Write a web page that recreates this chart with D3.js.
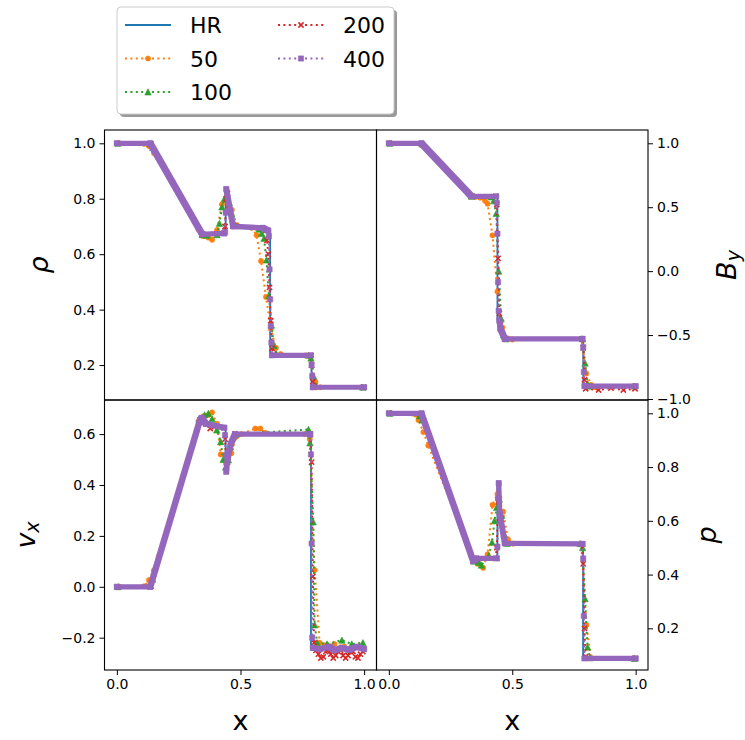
<!DOCTYPE html>
<html>
<head>
<meta charset="utf-8">
<script src="https://cdnjs.cloudflare.com/ajax/libs/d3/7.8.5/d3.min.js"></script>
<style>
  body { margin: 0; background: #fff; }
  text { font-family: "DejaVu Sans", sans-serif; }
</style>
</head>
<body>
<div id="chart"></div>
<script>
// values, [x, value]
var rhoHR = [[0,1],[0.135,1],[0.345,0.675],[0.44,0.675],[0.44,0.835],[0.47,0.70],[0.59,0.695],[0.62,0.69],[0.62,0.235],[0.787,0.235],[0.787,0.12],[1,0.12]];
var rho50 = [[0.01,1],[0.11,0.998],[0.13,0.99],[0.15,0.965],[0.33,0.69],[0.35,0.665],[0.37,0.66],[0.385,0.652],[0.405,0.687],[0.425,0.78],[0.445,0.8],[0.465,0.76],[0.485,0.705],[0.545,0.695],[0.565,0.668],[0.583,0.575],[0.603,0.446],[0.623,0.33],[0.643,0.262],[0.663,0.24],[0.763,0.235],[0.783,0.232],[0.803,0.14],[0.823,0.12],[0.99,0.12]];
var rho100 = [[0.005,1],[0.135,0.998],[0.145,0.985],[0.345,0.67],[0.365,0.668],[0.405,0.67],[0.415,0.711],[0.425,0.77],[0.435,0.8],[0.445,0.815],[0.455,0.785],[0.465,0.745],[0.475,0.71],[0.575,0.69],[0.585,0.675],[0.595,0.657],[0.605,0.579],[0.615,0.45],[0.625,0.344],[0.635,0.27],[0.645,0.24],[0.775,0.235],[0.785,0.225],[0.795,0.16],[0.805,0.125],[0.995,0.12]];
var rho200 = [[0.0025,1],[0.1375,0.998],[0.3475,0.672],[0.4325,0.675],[0.4375,0.70],[0.4425,0.80],[0.4475,0.82],[0.4775,0.70],[0.6025,0.685],[0.6075,0.65],[0.6125,0.6],[0.6175,0.48],[0.6225,0.36],[0.6275,0.26],[0.6325,0.236],[0.7825,0.235],[0.7875,0.2],[0.7925,0.14],[0.7975,0.12],[0.9975,0.12]];
var rho400 = [[0,1],[0.135,1],[0.345,0.672],[0.435,0.675],[0.4375,0.68],[0.44,0.75],[0.4425,0.835],[0.47,0.70],[0.59,0.695],[0.6125,0.685],[0.615,0.665],[0.6175,0.545],[0.62,0.437],[0.6225,0.341],[0.625,0.281],[0.6275,0.235],[0.785,0.235],[0.7875,0.2],[0.79,0.16],[0.7925,0.12],[1,0.12]];

var byHR = [[0,1],[0.132,1],[0.335,0.585],[0.44,0.585],[0.44,-0.38],[0.452,-0.45],[0.47,-0.53],[0.788,-0.53],[0.788,-0.9],[1,-0.9]];
var by50 = [[0.01,1],[0.13,0.99],[0.15,0.96],[0.33,0.59],[0.35,0.58],[0.37,0.575],[0.39,0.55],[0.4,0.527],[0.42,0.28],[0.44,-0.16],[0.46,-0.44],[0.48,-0.525],[0.5,-0.535],[0.78,-0.53],[0.8,-0.8],[0.82,-0.89],[0.84,-0.91],[0.99,-0.9]];
var by100 = [[0.005,1],[0.135,0.995],[0.335,0.585],[0.415,0.58],[0.425,0.55],[0.435,0.45],[0.445,0.0],[0.455,-0.37],[0.465,-0.5],[0.475,-0.53],[0.785,-0.53],[0.795,-0.72],[0.805,-0.88],[0.815,-0.9],[0.995,-0.9]];
var by200 = [[0.0025,1],[0.1325,1],[0.3375,0.585],[0.4325,0.585],[0.4375,0.52],[0.4425,0.1],[0.4475,-0.33],[0.4525,-0.42],[0.47,-0.53],[0.7825,-0.53],[0.7875,-0.6],[0.7925,-0.85],[0.7975,-0.92],[0.85,-0.93],[0.9,-0.915],[0.95,-0.93],[0.9975,-0.92]];
var by400 = [[0,1],[0.132,1],[0.335,0.585],[0.435,0.585],[0.4375,0.535],[0.44,0.293],[0.4425,-0.086],[0.445,-0.31],[0.4475,-0.385],[0.452,-0.45],[0.47,-0.53],[0.785,-0.53],[0.7875,-0.595],[0.79,-0.79],[0.7925,-0.9],[1,-0.9]];

var vxHR = [[0,0],[0.135,0],[0.34,0.66],[0.345,0.64],[0.44,0.632],[0.44,0.45],[0.455,0.53],[0.478,0.6],[0.785,0.6],[0.785,-0.24],[1,-0.24]];
var vx50 = [[0.01,0],[0.11,0.002],[0.13,0.026],[0.15,0.065],[0.17,0.12],[0.33,0.65],[0.35,0.67],[0.37,0.675],[0.385,0.685],[0.405,0.64],[0.42,0.52],[0.44,0.49],[0.463,0.525],[0.483,0.59],[0.503,0.6],[0.56,0.622],[0.58,0.622],[0.6,0.605],[0.76,0.6],[0.78,0.58],[0.8,0.066],[0.82,-0.22],[0.84,-0.23],[0.88,-0.225],[0.92,-0.235],[0.96,-0.24],[0.99,-0.24]];
var vx100 = [[0.005,0],[0.135,0.005],[0.145,0.03],[0.335,0.66],[0.355,0.675],[0.37,0.681],[0.385,0.66],[0.404,0.616],[0.42,0.57],[0.43,0.5],[0.44,0.47],[0.451,0.498],[0.46,0.55],[0.47,0.59],[0.485,0.6],[0.775,0.618],[0.781,0.565],[0.794,0.255],[0.8,-0.15],[0.81,-0.22],[0.85,-0.225],[0.91,-0.21],[0.95,-0.225],[0.995,-0.22]];
var vx200 = [[0.0025,0],[0.1375,0.002],[0.3375,0.655],[0.3475,0.65],[0.3775,0.622],[0.4325,0.625],[0.4375,0.58],[0.4425,0.47],[0.4475,0.49],[0.4775,0.6],[0.7825,0.6],[0.7875,0.49],[0.7925,0.04],[0.7975,-0.22],[0.805,-0.25],[0.815,-0.265],[0.825,-0.28],[0.835,-0.275],[0.845,-0.255],[0.855,-0.25],[0.865,-0.265],[0.875,-0.28],[0.885,-0.27],[0.895,-0.255],[0.905,-0.25],[0.915,-0.27],[0.925,-0.28],[0.935,-0.27],[0.945,-0.255],[0.955,-0.255],[0.965,-0.275],[0.975,-0.28],[0.985,-0.265],[0.995,-0.255]];
var vx400 = [[0,0],[0.135,0],[0.336,0.655],[0.343,0.664],[0.36,0.64],[0.435,0.625],[0.4375,0.596],[0.44,0.517],[0.4425,0.452],[0.4475,0.5],[0.46,0.56],[0.478,0.6],[0.78,0.6],[0.7825,0.598],[0.785,0.52],[0.7875,0.17],[0.79,-0.2],[0.7925,-0.24],[0.82,-0.245],[0.86,-0.235],[0.88,-0.25],[0.91,-0.24],[0.94,-0.248],[0.97,-0.235],[1,-0.245]];

var pHR = [[0,1],[0.132,1],[0.342,0.45],[0.355,0.46],[0.44,0.46],[0.44,0.74],[0.47,0.516],[0.787,0.514],[0.787,0.088],[1,0.088]];
var p50 = [[0.01,1],[0.11,0.995],[0.12,0.975],[0.14,0.93],[0.16,0.88],[0.34,0.455],[0.36,0.44],[0.382,0.425],[0.4,0.475],[0.42,0.659],[0.44,0.7],[0.463,0.634],[0.483,0.53],[0.503,0.515],[0.78,0.514],[0.8,0.212],[0.82,0.09],[0.99,0.088]];
var p100 = [[0.005,1],[0.125,0.99],[0.135,0.975],[0.345,0.45],[0.365,0.445],[0.375,0.435],[0.405,0.47],[0.418,0.52],[0.428,0.6],[0.437,0.65],[0.447,0.68],[0.457,0.62],[0.467,0.55],[0.48,0.516],[0.775,0.515],[0.785,0.5],[0.795,0.31],[0.805,0.13],[0.815,0.09],[0.995,0.088]];
var p200 = [[0.0025,1],[0.1325,0.998],[0.3425,0.45],[0.4325,0.46],[0.4375,0.5],[0.4425,0.67],[0.4475,0.68],[0.4525,0.6],[0.4725,0.516],[0.7825,0.514],[0.7875,0.44],[0.7925,0.2],[0.7975,0.095],[0.9975,0.088]];
var p400 = [[0,1],[0.132,1],[0.342,0.45],[0.355,0.46],[0.4375,0.46],[0.44,0.504],[0.4425,0.684],[0.445,0.74],[0.449,0.63],[0.47,0.516],[0.785,0.514],[0.7875,0.46],[0.79,0.246],[0.7925,0.088],[1,0.088]];

var seriesNames = ["HR", "50", "100", "200", "400"];
var rhoTicks = [0.2, 0.4, 0.6, 0.8, 1.0];
var byTicks = [-1.0, -0.5, 0.0, 0.5, 1.0];
var vxTicks = [-0.2, 0.0, 0.2, 0.4, 0.6];
var pTicks = [0.2, 0.4, 0.6, 0.8, 1.0];
var xTicks = [0.0, 0.5, 1.0];

var w = 745, h = 740;
var colors = ["#1f77b4", "#ff7f0e", "#2ca02c", "#d62728", "#9467bd"];
var markers = [null, "o", "^", "x", "s"];

var svg = d3.select("#chart").append("svg")
  .attr("width", w)
  .attr("height", h);

var panels = [
  {x0: 104.5, x1: 376.5, y0: 130, y1: 400, dom: [0.074, 1.048], ticks: rhoTicks, side: "left", xaxis: false,
   data: [rhoHR, rho50, rho100, rho200, rho400]},
  {x0: 376.5, x1: 648, y0: 130, y1: 400, dom: [-1.008, 1.104], ticks: byTicks, side: "right", xaxis: false,
   data: [byHR, by50, by100, by200, by400]},
  {x0: 104.5, x1: 376.5, y0: 400, y1: 670, dom: [-0.327, 0.734], ticks: vxTicks, side: "left", xaxis: true,
   data: [vxHR, vx50, vx100, vx200, vx400]},
  {x0: 376.5, x1: 648, y0: 400, y1: 670, dom: [0.045, 1.0495], ticks: pTicks, side: "right", xaxis: true,
   data: [pHR, p50, p100, p200, p400]}
];

var half = 2.6; // half side of the square marker

function markerPath(kind) {
  if (kind == "o") return "M2.6,0A2.6,2.6 0 1,1 -2.6,0A2.6,2.6 0 1,1 2.6,0Z";
  if (kind == "^") return "M0,-3.2L-3.2,3L3.2,3Z";
  if (kind == "x") return "M-2.6,-2.6L2.6,2.6M-2.6,2.6L2.6,-2.6";
  return "M" + (-half) + "," + (-half) + "H" + half + "V" + half + "H" + (-half) + "Z";
}

function drawMarker(g, cx, cy, kind, color) {
  g.append("path")
    .attr("transform", "translate(" + cx + "," + cy + ")")
    .attr("d", markerPath(kind))
    .attr("fill", kind == "x" ? "none" : color)
    .attr("stroke", color)
    .attr("stroke-width", kind == "x" ? 1.5 : 0.6);
}

panels.forEach(function(p, i) {
  var xs = d3.scaleLinear().domain([-0.05, 1.05]).range([p.x0, p.x1]);
  var ys = d3.scaleLinear().domain(p.dom).range([p.y1, p.y0]);
  var g = svg.append("g");

  svg.append("clipPath").attr("id", "clip" + i)
    .append("rect")
    .attr("x", p.x0).attr("y", p.y0)
    .attr("width", p.x1 - p.x0).attr("height", p.y1 - p.y0);
  var plot = g.append("g").attr("clip-path", "url(#clip" + i + ")");

  var line = d3.line()
    .x(function(d) { return xs(d[0]); })
    .y(function(d) { return ys(d[1]); });

  // high resolution reference
  plot.append("path")
    .datum(p.data[0])
    .attr("d", line)
    .attr("fill", "none")
    .attr("stroke", colors[0])
    .attr("stroke-width", 1.8);

  // coarse runs, dotted with markers
  for (var k = 1; k <= 3; k++) {
    plot.append("path")
      .datum(p.data[k])
      .attr("d", line)
      .attr("fill", "none")
      .attr("stroke", colors[k])
      .attr("stroke-width", 2)
      .attr("stroke-dasharray", "2,3.4");
    p.data[k].forEach(function(d) {
      drawMarker(plot, xs(d[0]), ys(d[1]), markers[k], colors[k]);
    });
  }

  // 400 cells: markers overlap into a band on smooth stretches
  var pts = p.data[4];
  plot.append("path")
    .datum(pts)
    .attr("d", line)
    .attr("fill", "none")
    .attr("stroke", colors[4])
    .attr("stroke-width", 2)
    .attr("stroke-dasharray", "2,3.4");
  for (var j = 0; j < pts.length - 1; j++) {
    var a = pts[j], b = pts[j + 1];
    if (b[0] - a[0] > 0.003) {
      var corners = [];
      [a, b].forEach(function(d) {
        var cx = xs(d[0]), cy = ys(d[1]);
        corners.push([cx - half, cy - half], [cx + half, cy - half], [cx + half, cy + half], [cx - half, cy + half]);
      });
      plot.append("path")
        .attr("d", "M" + d3.polygonHull(corners).join("L") + "Z")
        .attr("fill", colors[4]);
    }
  }
  pts.forEach(function(d) {
    drawMarker(plot, xs(d[0]), ys(d[1]), "s", colors[4]);
  });

  // y axis
  var yAxis = (p.side == "left" ? d3.axisLeft(ys) : d3.axisRight(ys))
    .tickValues(p.ticks)
    .tickFormat(d3.format(".1f"))
    .tickSize(5)
    .tickSizeOuter(0)
    .tickPadding(4);
  var ya = g.append("g")
    .attr("transform", "translate(" + (p.side == "left" ? p.x0 : p.x1) + ",0)")
    .call(yAxis);
  ya.select(".domain").remove();
  ya.attr("font-size", 14).attr("font-family", "DejaVu Sans");

  if (p.xaxis) {
    var xAxis = d3.axisBottom(xs)
      .tickValues(xTicks)
      .tickFormat(d3.format(".1f"))
      .tickSize(5)
      .tickSizeOuter(0)
      .tickPadding(4);
    var xa = g.append("g")
      .attr("transform", "translate(0," + p.y1 + ")")
      .call(xAxis);
    xa.select(".domain").remove();
    xa.attr("font-size", 14).attr("font-family", "DejaVu Sans");

    g.append("text")
      .attr("x", (p.x0 + p.x1) / 2)
      .attr("y", 730)
      .attr("text-anchor", "middle")
      .style("font-size", "27px")
      .text("x");
  }

  // frame
  g.append("rect")
    .attr("x", p.x0).attr("y", p.y0)
    .attr("width", p.x1 - p.x0).attr("height", p.y1 - p.y0)
    .attr("fill", "none")
    .attr("stroke", "black")
    .attr("stroke-width", 1.1);
});

// axis labels
function yLabel(x, y, main, sub) {
  var t = svg.append("text")
    .attr("transform", "translate(" + x + "," + y + ") rotate(-90)")
    .attr("text-anchor", "middle")
    .style("font-size", "27px")
    .style("font-style", "italic");
  t.append("tspan").text(main);
  if (sub) t.append("tspan").attr("dy", 4).style("font-size", "19px").text(sub);
}
yLabel(48, 265, "\u03c1");
yLabel(35, 535, "v", "x");
yLabel(736, 265, "B", "y");
yLabel(716, 535, "p");

// legend
var leg = svg.append("g");
leg.append("rect")
  .attr("x", 120).attr("y", 10)
  .attr("width", 277).attr("height", 107)
  .attr("rx", 4)
  .attr("fill", "#000")
  .attr("opacity", 0.4);
leg.append("rect")
  .attr("x", 117).attr("y", 7)
  .attr("width", 277).attr("height", 107)
  .attr("rx", 4)
  .attr("fill", "white")
  .attr("stroke", "#cccccc")
  .attr("stroke-width", 1);

seriesNames.forEach(function(name, i) {
  var col = i < 3 ? 0 : 1, row = i < 3 ? i : i - 3;
  var lx = col == 0 ? 125 : 278, ly = 25 + row * 33.5;
  leg.append("line")
    .attr("x1", lx).attr("x2", lx + 46)
    .attr("y1", ly).attr("y2", ly)
    .attr("stroke", colors[i])
    .attr("stroke-width", i == 0 ? 1.8 : 2)
    .attr("stroke-dasharray", i == 0 ? null : "2,3.4");
  if (markers[i]) drawMarker(leg, lx + 23, ly, markers[i], colors[i]);
  leg.append("text")
    .attr("x", col == 0 ? 190 : 343)
    .attr("y", ly + 8)
    .style("font-size", "22px")
    .text(name);
});
</script>
</body>
</html>
